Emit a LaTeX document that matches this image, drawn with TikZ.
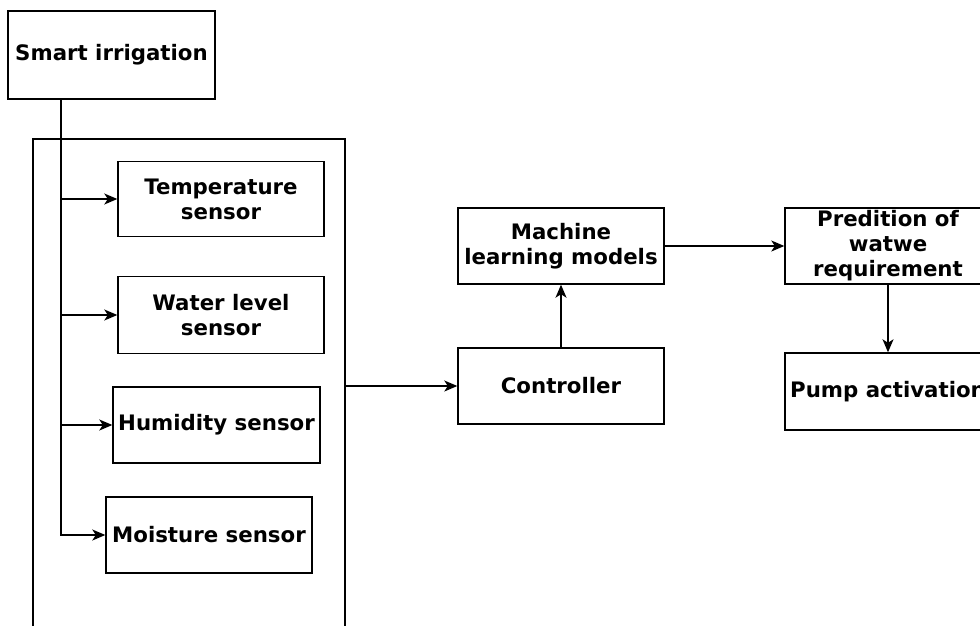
\documentclass[tikz,border=0pt]{standalone}
\usepackage{fontspec}
\setmainfont{DejaVu Sans}
\usetikzlibrary{arrows.meta}
\begin{document}
\begin{tikzpicture}[x=1pt,y=-1pt,
  box/.style={draw=black,line width=1.4pt,rectangle,inner sep=0pt,
    minimum width=206pt,minimum height=76pt,align=center,
    font=\fontsize{21.3}{25}\selectfont\bfseries},
  link/.style={line width=1.4pt,-{Stealth[length=13pt,width=11pt,inset=3.5pt]}}]
\useasboundingbox (0,0) rectangle (980,626);
\clip (0,0) rectangle (980,626);

% sensor panel (runs past the lower edge)
\node[draw=black,line width=1.4pt,minimum width=312pt,minimum height=540pt,inner sep=0pt] (panel) at (189,409) {};

% boxes
\node[box,minimum width=207pt,minimum height=88pt] (smart) at (111.5,55) {Smart irrigation};
\node[box,minimum height=75pt] (temp) at (221,199) {Temperature\\sensor};
\node[box,minimum height=77pt] (water) at (221,315) {Water level\\sensor};
\node[box,minimum width=207pt] (hum) at (216.5,425) {Humidity sensor};
\node[box] (moist) at (209,535) {Moisture sensor};
\node[box] (ctrl) at (561,386) {Controller};
\node[box] (ml) at (561,246) {Machine\\learning models};
\node[box] (pred) at (888,246) {Predition of\\watwe\\requirement};
\node[box,minimum height=77pt] (pump) at (888,391.5) {Pump activation};

% trunk from the top box to each sensor
\coordinate (trunk) at (61,0 |- smart.south);
\draw[link] (trunk) |- (moist.west);
\draw[link] (trunk |- temp.west) -- (temp.west);
\draw[link] (trunk |- water.west) -- (water.west);
\draw[link] (trunk |- hum.west) -- (hum.west);

% processing chain
\draw[link] (panel.east |- ctrl.west) -- (ctrl.west);
\draw[link] (ctrl.north) -- (ml.south);
\draw[link] (ml.east) -- (pred.west);
\draw[link] (pred.south) -- (pump.north);
\end{tikzpicture}
\end{document}
